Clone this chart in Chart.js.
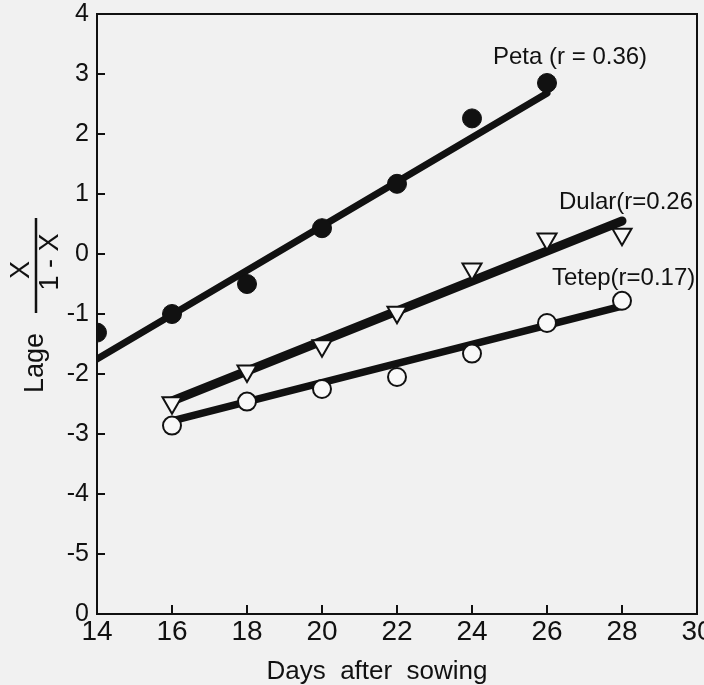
<!DOCTYPE html>
<html>
<head>
<meta charset="utf-8">
<script src="https://cdn.jsdelivr.net/npm/chart.js@4.4.1/dist/chart.umd.min.js"></script>
<style>
  html, body { margin: 0; padding: 0; background: #f1f1f1; }
  #wrap { width: 704px; height: 685px; }
</style>
</head>
<body>
<div id="wrap"><canvas id="chart" width="704" height="685"></canvas></div>
<script>
// values
const petaDays = [14, 16, 18, 20, 22, 24, 26];
const petaVals = [-1.31, -1.0, -0.5, 0.43, 1.17, 2.26, 2.85];
const dularDays = [16, 18, 20, 22, 24, 26, 28];
const dularVals = [-2.48, -1.95, -1.53, -0.97, -0.25, 0.25, 0.33];
const tetepDays = [16, 18, 20, 22, 24, 26, 28];
const tetepVals = [-2.86, -2.46, -2.25, -2.05, -1.66, -1.15, -0.78];

// fitted regression lines (end points)
const petaFit = [[14, -1.75], [26, 2.68]];
const dularFit = [[16, -2.45], [28, 0.55]];
const tetepFit = [[16, -2.78], [28, -0.87]];

const xTicks = [14, 16, 18, 20, 22, 24, 26, 28, 30];
const yTicks = [4, 3, 2, 1, 0, -1, -2, -3, -4, -5, -6];

const toXY = (xs, ys) => xs.map((x, i) => ({ x: x, y: ys[i] }));
const toPts = (arr) => arr.map(p => ({ x: p[0], y: p[1] }));

const FONT = "'Liberation Sans', Arial, sans-serif";
const INK = '#111';

const extras = {
  id: 'extras',
  beforeDraw(chart) {
    const c = chart.ctx;
    c.save();
    c.fillStyle = '#f1f1f1';
    c.fillRect(0, 0, chart.width, chart.height);
    c.restore();
  },
  afterDraw(chart) {
    const c = chart.ctx;
    const a = chart.chartArea;
    const xs = chart.scales.x, ys = chart.scales.y;
    c.save();
    // frame
    c.strokeStyle = INK;
    c.lineWidth = 2;
    c.strokeRect(a.left, a.top, a.right - a.left, a.bottom - a.top);
    // inward tick marks
    c.beginPath();
    yTicks.forEach(v => {
      if (v === 4 || v === -6) return;
      const p = ys.getPixelForValue(v);
      c.moveTo(a.left, p); c.lineTo(a.left + 8, p);
    });
    xTicks.forEach(v => {
      if (v === 14 || v === 30) return;
      const p = xs.getPixelForValue(v);
      c.moveTo(p, a.bottom); c.lineTo(p, a.bottom - 9);
    });
    c.stroke();

    // series labels
    c.fillStyle = INK;
    c.textBaseline = 'middle';
    c.textAlign = 'left';
    c.font = '24px ' + FONT;
    c.fillText('Peta (r = 0.36)', xs.getPixelForValue(24.56), ys.getPixelForValue(3.27));
    c.fillText('Dular(r=0.26', xs.getPixelForValue(26.32), ys.getPixelForValue(0.855));
    c.fillText('Tetep(r=0.17)', xs.getPixelForValue(26.13), ys.getPixelForValue(-0.41));

    // x axis title
    c.textAlign = 'center';
    c.font = '26px ' + FONT;
    c.fillText('Days  after  sowing', 377, 672);

    // y axis title: Lage X / (1-X), rotated
    c.font = '27px ' + FONT;
    c.save();
    c.translate(36, 363);
    c.rotate(-Math.PI / 2);
    c.fillText('Lage', 0, 0);
    c.restore();
    c.save();
    c.translate(22, 270);
    c.rotate(-Math.PI / 2);
    c.fillText('X', 0, 0);
    c.restore();
    c.save();
    c.translate(51, 262);
    c.rotate(-Math.PI / 2);
    c.fillText('1 - X', 0, 0);
    c.restore();
    c.beginPath();
    c.lineWidth = 2.5;
    c.moveTo(36, 218); c.lineTo(36, 313);
    c.stroke();
    c.restore();
  }
};

new Chart(document.getElementById('chart'), {
  type: 'scatter',
  data: {
    datasets: [
      { label: 'Peta', data: toXY(petaDays, petaVals), pointStyle: 'circle', pointRadius: 9.5,
        backgroundColor: INK, borderColor: INK, borderWidth: 1, order: 0 },
      { label: 'Dular', data: toXY(dularDays, dularVals), pointStyle: 'triangle', pointRotation: 180,
        pointRadius: 11, backgroundColor: '#f8f8f8', borderColor: INK, borderWidth: 2, order: 0 },
      { label: 'Tetep', data: toXY(tetepDays, tetepVals), pointStyle: 'circle', pointRadius: 9,
        backgroundColor: '#f8f8f8', borderColor: INK, borderWidth: 2, order: 0 },
      { label: 'Peta fit', data: toPts(petaFit), showLine: true, pointRadius: 0,
        borderColor: INK, borderWidth: 7, borderCapStyle: 'round', order: 1 },
      { label: 'Dular fit', data: toPts(dularFit), showLine: true, pointRadius: 0,
        borderColor: INK, borderWidth: 9, borderCapStyle: 'round', order: 1 },
      { label: 'Tetep fit', data: toPts(tetepFit), showLine: true, pointRadius: 0,
        borderColor: INK, borderWidth: 7.5, borderCapStyle: 'round', order: 1 }
    ]
  },
  options: {
    responsive: false,
    animation: false,
    events: [],
    layout: { autoPadding: false, padding: { top: 14, right: 7, left: 0, bottom: 0 } },
    plugins: { legend: { display: false }, tooltip: { enabled: false } },
    scales: {
      x: {
        type: 'linear', min: 14, max: 30,
        afterBuildTicks: (s) => { s.ticks = xTicks.map(v => ({ value: v })); },
        grid: { display: false, drawTicks: false },
        border: { display: false },
        ticks: { color: INK, padding: 1, font: { family: FONT, size: 28 } },
        afterFit: (s) => { s.height = 71; s.paddingLeft = 0; s.paddingRight = 0; }
      },
      y: {
        type: 'linear', min: -6, max: 4,
        afterBuildTicks: (s) => { s.ticks = yTicks.map(v => ({ value: v })); },
        grid: { display: false, drawTicks: false },
        border: { display: false },
        ticks: { color: INK, padding: 8, font: { family: FONT, size: 25 },
          callback: (v) => v === -6 ? '0' : String(v) },
        afterFit: (s) => { s.width = 97; s.paddingTop = 0; s.paddingBottom = 0; }
      }
    }
  },
  plugins: [extras]
});
</script>
</body>
</html>
